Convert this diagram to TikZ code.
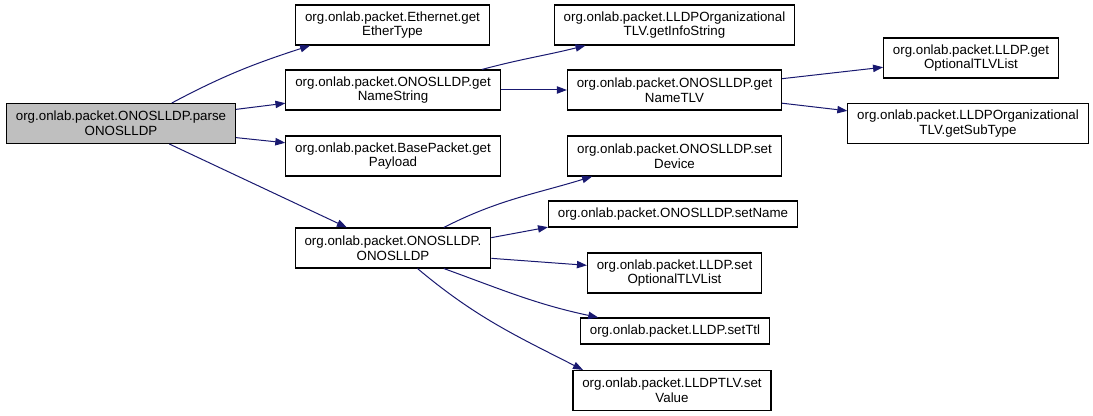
\documentclass[tikz,border=0pt]{standalone}
\usepackage{fontspec}
\setsansfont{Liberation Sans}
\usepackage{tikz}
\usetikzlibrary{arrows.meta}
\definecolor{dxblue}{HTML}{191970}
\definecolor{dxroot}{HTML}{BFBFBF}
\tikzset{
  fnbox/.style   = {draw=black, fill=white, line width=0.8pt, align=center,
                    font=\sffamily\fontsize{10}{11}\selectfont,
                    inner xsep=7pt, inner ysep=0pt, minimum height=30pt},
  fnone/.style   = {fnbox, minimum height=19.5pt},
  fnroot/.style  = {fnbox, fill=dxroot},
  callarr/.style = {draw=dxblue, line width=0.75pt,
                    -{Triangle[length=7.5pt, width=5.5pt]}},
}

\begin{document}
\begin{tikzpicture}[x=0.75pt, y=-0.75pt]
  \useasboundingbox (0,0) rectangle (1093,416);
  % nodes
  \node[fnroot] (parse)   at (121,123.5) {org.onlab.packet.ONOSLLDP.parse\\ONOSLLDP};
  \node[fnbox] (ethtype)  at (392.5,25)  {org.onlab.packet.Ethernet.get\\EtherType};
  \node[fnbox] (namestr)  at (393,90)    {org.onlab.packet.ONOSLLDP.get\\NameString};
  \node[fnbox] (payload)  at (393,156)   {org.onlab.packet.BasePacket.get\\Payload};
  \node[fnbox] (ctor)     at (393,248)   {org.onlab.packet.ONOSLLDP.\\ONOSLLDP};
  \node[fnbox] (infostr)  at (674.5,25)  {org.onlab.packet.LLDPOrganizational\\TLV.getInfoString};
  \node[fnbox] (nametlv)  at (674.5,90)  {org.onlab.packet.ONOSLLDP.get\\NameTLV};
  \node[fnbox] (setdev)   at (674.5,156) {org.onlab.packet.ONOSLLDP.set\\Device};
  \node[fnone] (setname)  at (673,214)   {org.onlab.packet.ONOSLLDP.setName};
  \node[fnbox] (setopt)   at (674.5,273) {org.onlab.packet.LLDP.set\\OptionalTLVList};
  \node[fnone] (setttl)   at (675,331)   {org.onlab.packet.LLDP.setTtl};
  \node[fnbox] (setval)   at (672,390.5) {org.onlab.packet.LLDPTLV.set\\Value};
  \node[fnbox] (getopt)   at (971,58)    {org.onlab.packet.LLDP.get\\OptionalTLVList};
  \node[fnbox] (subtype)  at (968,123.5) {org.onlab.packet.LLDPOrganizational\\TLV.getSubType};
  % calls
  \draw[callarr] (parse.22) to[out=28, in=198] (ethtype.194);
  \draw[callarr] (parse.7) -- (namestr.187);
  \draw[callarr] (parse.-7) -- (payload.173);
  \draw[callarr] (parse.-23) -- (ctor.156);
  \draw[callarr] (namestr.13) to[out=15, in=194] (infostr.193);
  \draw[callarr] (namestr.east) -- (nametlv.west);
  \draw[callarr] (nametlv.6) -- (getopt.186);
  \draw[callarr] (nametlv.-7) -- (subtype.174);
  \draw[callarr] (ctor.22) to[out=27, in=197] (setdev.194);
  \draw[callarr] (ctor.6) -- (setname.186);
  \draw[callarr] (ctor.-6) -- (setopt.175);
  \draw[callarr] (ctor.-22) to[out=-20, in=168] (setttl.170);
  \draw[callarr] (ctor.-40) to[out=-40, in=153] (setval.167);
\end{tikzpicture}
\end{document}
